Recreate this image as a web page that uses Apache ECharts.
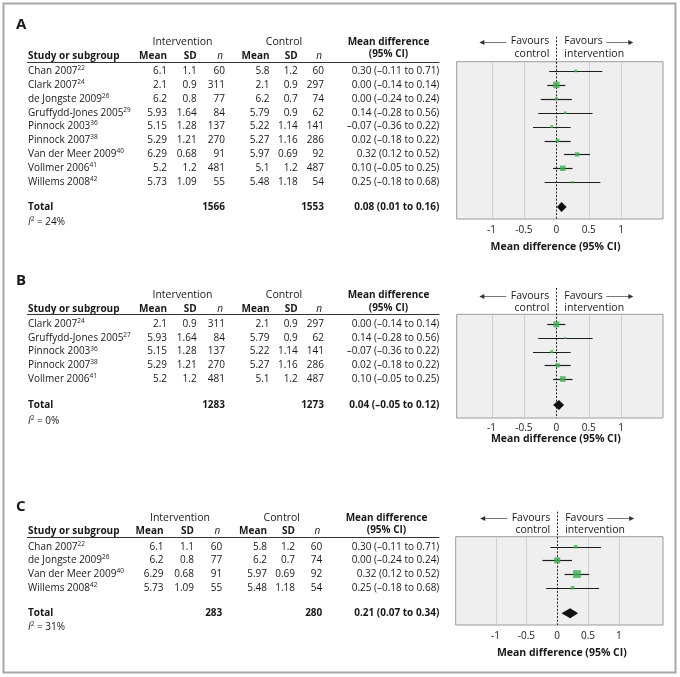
<!DOCTYPE html>
<html><head><meta charset="utf-8">
<script src="https://cdn.jsdelivr.net/npm/echarts@6/dist/echarts.min.js"></script>
<style>html,body{margin:0;padding:0;background:#fff}#c{width:680px;height:677px}</style>
</head><body><div id="c"></div>
<script>
// ---------------- data ----------------
const studyNames = ['Chan 2007','Clark 2007','de Jongste 2009','Gruffydd-Jones 2005','Pinnock 2003','Pinnock 2007','Van der Meer 2009','Vollmer 2006','Willems 2008'];
const studyRefs  = [22,24,26,29,36,38,40,41,42];
const intMean = [6.1,2.1,6.2,5.93,5.15,5.29,6.29,5.2,5.73];
const intSD   = [1.1,0.9,0.8,1.64,1.28,1.21,0.68,1.2,1.09];
const intN    = [60,311,77,84,137,270,91,481,55];
const ctlMean = [5.8,2.1,6.2,5.79,5.22,5.27,5.97,5.1,5.48];
const ctlSD   = [1.2,0.9,0.7,0.9,1.14,1.16,0.69,1.2,1.18];
const ctlN    = [60,297,74,62,141,286,92,487,54];
const meanDiff = [0.30,0.00,0.00,0.14,-0.07,0.02,0.32,0.10,0.25];
const ciLow    = [-0.11,-0.14,-0.24,-0.28,-0.36,-0.18,0.12,-0.05,-0.18];
const ciHigh   = [0.71,0.14,0.24,0.56,0.22,0.22,0.52,0.25,0.68];

const panelLabels = ['A','B','C'];
const studiesA = [0,1,2,3,4,5,6,7,8];
const studiesB = [1,3,4,5,7];
const studiesC = [0,2,6,8];
const refsA = [22,24,26,29,36,38,40,41,42];
const refsB = [24,27,36,38,41];
const refsC = [22,26,40,42];
const weightsA = [4.5,25,6,3.5,5,8,11,18,3.5];
const weightsB = [35.8,4.2,9.0,18.8,32.1];
const weightsC = [10,30,50,10];
const totalIntN = [1566,1283,283];
const totalCtlN = [1553,1273,280];
const pooledMD   = [0.08,0.04,0.21];
const pooledLow  = [0.01,-0.05,0.07];
const pooledHigh = [0.16,0.12,0.34];
const iSquared = [24,0,31];
const xTicks = [-1,-0.5,0,0.5,1];

// ---------------- layout ----------------
const colsAB = {label:16, study:28, iMean:167, iSD:196.6, iN:225, cMean:269.5, cSD:297.7, cN:324, md:439.3, iHdr:182.5, cHdr:284, mdHdr:388.5, ulL:27, ulR:439.5};
const colsC  = {label:16, study:28, iMean:163.5, iSD:194, iN:222.3, cMean:267, cSD:295, cN:322.3, md:439.3, iHdr:180, cHdr:281.7, mdHdr:386.5, ulL:27, ulR:439.5};
const layouts = [
  {row0:71, step:13.9, boxTop:61.7, boxBottom:219, plotLeft:456.7, plotRight:663, xMin:-1.537, xMax:1.646,
   labelY:25, hdr1:42.3, hdr2:55.7, ciHdr:54.5, fav1:41.5, fav2:54, zeroTop:36.7, totalY:207, i2Y:222,
   tickMargin:6.5, nameGap:22.5, namePad:[0,8.6,0,0], cols:colsAB, sizeK:1.3},
  {row0:324.3, step:13.675, boxTop:314.3, boxBottom:418, plotLeft:456.7, plotRight:663, xMin:-1.537, xMax:1.646,
   labelY:281, hdr1:295, hdr2:309, ciHdr:308.3, fav1:295.7, fav2:308.3, zeroTop:288, totalY:405, i2Y:421,
   tickMargin:5, nameGap:15.5, namePad:[0,8,0,0], cols:colsAB, sizeK:1.0},
  {row0:546.7, step:13.67, boxTop:536.7, boxBottom:625, plotLeft:455.7, plotRight:663, xMin:-1.646, xMax:1.716,
   labelY:507, hdr1:517.7, hdr2:531, ciHdr:530, fav1:517.7, fav2:530, zeroTop:511.7, totalY:613.3, i2Y:627.3,
   tickMargin:6, nameGap:22.5, namePad:[0,0,0,5], cols:colsC, sizeK:1.1}
];
const panelStudies = [studiesA, studiesB, studiesC];
const panelRefs = [refsA, refsB, refsC];
const panelWeights = [weightsA, weightsB, weightsC];

const FONT = '"Open Sans", "Noto Sans", sans-serif';
const INK = '#1a1718';
const GREEN = '#34b14a';
const FS = 10;

function fmt(v){ return (v < 0 ? '\u2013' : '') + Math.abs(v).toFixed(2); }
function ciText(m, lo, hi){ return fmt(m) + ' (' + fmt(lo) + ' to ' + fmt(hi) + ')'; }

const styles = {
  n:  {fontSize:FS, fontWeight:'normal'},
  b:  {fontSize:FS, fontWeight:'bold'},
  it: {fontSize:FS, fontStyle:'italic'},
  hdr:{fontSize:10.5, fontWeight:'normal'},
  panel:{fontSize:15, fontWeight:'bold'}
};
const richDef = {
  n: {fontSize:FS, fontFamily:FONT, fill:INK, lineHeight:13},
  s: {fontSize:6.5, fontFamily:FONT, fill:INK, lineHeight:7, verticalAlign:'top'},
  i: {fontSize:FS, fontFamily:FONT, fill:INK, fontStyle:'italic', lineHeight:13}
};

function buildCells(p){
  const L = layouts[p], C = L.cols, idx = panelStudies[p], refs = panelRefs[p];
  const rv = px => (px - L.row0) / L.step;
  const cells = [];
  const add = (x, row, text, align, st) => cells.push({x, row, text, align, st: st || 'n'});
  add(C.label, rv(L.labelY), panelLabels[p], 'left', 'panel');
  add(C.iHdr, rv(L.hdr1), 'Intervention', 'center', 'hdr');
  add(C.cHdr, rv(L.hdr1), 'Control', 'center', 'hdr');
  add(C.mdHdr, rv(L.hdr1), 'Mean difference', 'center', 'b');
  add(C.mdHdr, rv(L.ciHdr), '(95% CI)', 'center', 'b');
  add(C.study, rv(L.hdr2), 'Study or subgroup', 'left', 'b');
  add(C.iMean, rv(L.hdr2), 'Mean', 'right', 'b');
  add(C.iSD, rv(L.hdr2), 'SD', 'right', 'b');
  add(C.iN - 2, rv(L.hdr2), 'n', 'right', 'it');
  add(C.cMean, rv(L.hdr2), 'Mean', 'right', 'b');
  add(C.cSD, rv(L.hdr2), 'SD', 'right', 'b');
  add(C.cN - 2, rv(L.hdr2), 'n', 'right', 'it');
  idx.forEach((s, i) => {
    add(C.study, i, '{n|' + studyNames[s] + '}{s|' + refs[i] + '}', 'left', 'rich');
    add(C.iMean, i, String(intMean[s]), 'right');
    add(C.iSD, i, String(intSD[s]), 'right');
    add(C.iN, i, String(intN[s]), 'right');
    add(C.cMean, i, String(ctlMean[s]), 'right');
    add(C.cSD, i, String(ctlSD[s]), 'right');
    add(C.cN, i, String(ctlN[s]), 'right');
    add(C.md, i, ciText(meanDiff[s], ciLow[s], ciHigh[s]), 'right');
  });
  add(C.study, rv(L.totalY), 'Total', 'left', 'b');
  add(C.iN, rv(L.totalY), String(totalIntN[p]), 'right', 'b');
  add(C.cN, rv(L.totalY), String(totalCtlN[p]), 'right', 'b');
  add(C.md, rv(L.totalY), ciText(pooledMD[p], pooledLow[p], pooledHigh[p]), 'right', 'b');
  add(C.study, rv(L.i2Y), '{i|I}{s|2}{n| = ' + iSquared[p] + '%}', 'left', 'rich');
  return cells;
}

const grids = [], xAxes = [], yAxes = [], series = [];
layouts.forEach((L, p) => {
  const rv = px => (px - L.row0) / L.step;
  const yMin = rv(L.boxTop), yMax = rv(L.boxBottom);
  const gP = grids.length;
  grids.push({left:L.plotLeft, top:L.boxTop, width:L.plotRight - L.plotLeft, height:L.boxBottom - L.boxTop,
    show:true, backgroundColor:'#efefef', borderColor:'#9a9a9a', borderWidth:1});
  grids.push({left:0, top:L.boxTop, width:680, height:L.boxBottom - L.boxTop, show:false});
  xAxes.push({gridIndex:gP, type:'value', min:L.xMin, max:L.xMax,
    axisLine:{show:false}, axisTick:{show:false}, splitLine:{show:false},
    axisLabel:{customValues:xTicks, formatter:v => String(v), margin:L.tickMargin, fontFamily:FONT, fontSize:10, color:INK},
    name:'Mean difference (95% CI)', nameLocation:'middle', nameGap:L.nameGap,
    nameTextStyle:{fontFamily:FONT, fontSize:10.5, fontWeight:'bold', color:INK, padding:L.namePad}});
  xAxes.push({gridIndex:gP + 1, type:'value', min:0, max:680, show:false});
  yAxes.push({gridIndex:gP, type:'value', inverse:true, min:yMin, max:yMax, show:false});
  yAxes.push({gridIndex:gP + 1, type:'value', inverse:true, min:yMin, max:yMax, show:false});

  const idx = panelStudies[p];
  // plot decorations: gridlines, zero line, favours labels and arrows
  series.push({type:'custom', xAxisIndex:gP, yAxisIndex:gP, silent:true, z:1, data:[[0, 0]],
    renderItem:(params, api) => {
      const ch = [];
      xTicks.forEach(t => {
        if (t === 0) return;
        const a = api.coord([t, yMin]), b = api.coord([t, yMax]);
        const x = Math.round(a[0]) + 0.5;
        ch.push({type:'line', shape:{x1:x, y1:a[1] + 1, x2:x, y2:b[1] - 1}, style:{stroke:'#d0d0d0', lineWidth:1}});
      });
      const z0 = api.coord([0, rv(L.zeroTop)]), z1 = api.coord([0, yMax]);
      const zx = Math.round(z0[0]) + 0.5;
      ch.push({type:'line', z2:5, shape:{x1:zx, y1:z0[1], x2:zx, y2:z1[1]}, style:{stroke:'#222', lineWidth:1, lineDash:[2, 1.6]}});
      const f1 = api.coord([0, rv(L.fav1)]), f2 = api.coord([0, rv(L.fav2)]);
      const tst = (x, y, text, align) => ({type:'text', x, y, style:{text, align, verticalAlign:'middle', fill:INK, fontFamily:FONT, fontSize:10.5}});
      ch.push(tst(f1[0] - 7, f1[1], 'Favours', 'right'));
      ch.push(tst(f2[0] - 7, f2[1], 'control', 'right'));
      ch.push(tst(f1[0] + 8, f1[1], 'Favours', 'left'));
      ch.push(tst(f2[0] + 8, f2[1], 'intervention', 'left'));
      const ay = Math.round(f1[1]) + 0.5;
      ch.push({type:'line', shape:{x1:f1[0] - 50, y1:ay, x2:f1[0] - 73, y2:ay}, style:{stroke:'#777', lineWidth:1}});
      ch.push({type:'polygon', shape:{points:[[f1[0] - 77, ay], [f1[0] - 72, ay - 2.5], [f1[0] - 72, ay + 2.5]]}, style:{fill:'#333'}});
      ch.push({type:'line', shape:{x1:f1[0] + 50, y1:ay, x2:f1[0] + 73, y2:ay}, style:{stroke:'#777', lineWidth:1}});
      ch.push({type:'polygon', shape:{points:[[f1[0] + 77, ay], [f1[0] + 72, ay - 2.5], [f1[0] + 72, ay + 2.5]]}, style:{fill:'#333'}});
      return {type:'group', children:ch};
    }});
  // CI whiskers
  series.push({type:'custom', xAxisIndex:gP, yAxisIndex:gP, silent:true, z:3,
    data: idx.map((s, i) => [meanDiff[s], i, ciLow[s], ciHigh[s]]),
    renderItem:(params, api) => {
      const a = api.coord([api.value(2), api.value(1)]), b = api.coord([api.value(3), api.value(1)]);
      const y = Math.round(a[1]) + 0.5;
      return {type:'line', shape:{x1:a[0], y1:y, x2:b[0], y2:y}, style:{stroke:'#1e1e1e', lineWidth:1.2}};
    }});
  // study squares
  series.push({type:'scatter', xAxisIndex:gP, yAxisIndex:gP, silent:true, z:4, clip:false,
    symbol:'rect', symbolSize:v => L.sizeK * Math.sqrt(v[2]),
    itemStyle:{color:GREEN},
    data: idx.map((s, i) => [meanDiff[s], i, panelWeights[p][i]])});
  // pooled diamond
  series.push({type:'custom', xAxisIndex:gP, yAxisIndex:gP, silent:true, z:4,
    data:[[pooledMD[p], rv(L.totalY), pooledLow[p], pooledHigh[p]]],
    renderItem:(params, api) => {
      const m = api.coord([api.value(0), api.value(1)]);
      const lo = api.coord([api.value(2), api.value(1)]), hi = api.coord([api.value(3), api.value(1)]);
      return {type:'polygon', shape:{points:[[lo[0], m[1]], [m[0], m[1] - 5], [hi[0], m[1]], [m[0], m[1] + 5]]}, style:{fill:'#111'}};
    }});
  // table text
  const cells = buildCells(p);
  series.push({type:'custom', xAxisIndex:gP + 1, yAxisIndex:gP + 1, silent:true, z:5,
    data: cells.map(c => [c.x, c.row]),
    renderItem:(params, api) => {
      const c = cells[params.dataIndex];
      const pt = api.coord([api.value(0), api.value(1)]);
      const st = {text:c.text, align:c.align, verticalAlign:'middle', fill:INK, fontFamily:FONT};
      if (c.st === 'rich') { st.rich = richDef; st.fontSize = FS; }
      else Object.assign(st, styles[c.st]);
      return {type:'text', x:pt[0], y:pt[1], style:st};
    }});
  // table header underline
  series.push({type:'custom', xAxisIndex:gP + 1, yAxisIndex:gP + 1, silent:true, z:5, data:[[0, 0]],
    renderItem:(params, api) => {
      const a = api.coord([L.cols.ulL, yMin]), b = api.coord([L.cols.ulR, yMin]);
      const y = Math.round(a[1]) + 0.5;
      return {type:'line', shape:{x1:a[0], y1:y, x2:b[0], y2:y}, style:{stroke:'#333', lineWidth:1}};
    }});
});

const chart = echarts.init(document.getElementById('c'), null, {renderer:'canvas'});
chart.setOption({
  animation:false,
  backgroundColor:'#fff',
  grid:grids, xAxis:xAxes, yAxis:yAxes, series:series,
  graphic:[{type:'rect', silent:true, z:0, shape:{x:3.5, y:3.5, width:672, height:669}, style:{fill:'none', stroke:'#a8a8a8', lineWidth:2}}]
});
</script>
</body></html>
